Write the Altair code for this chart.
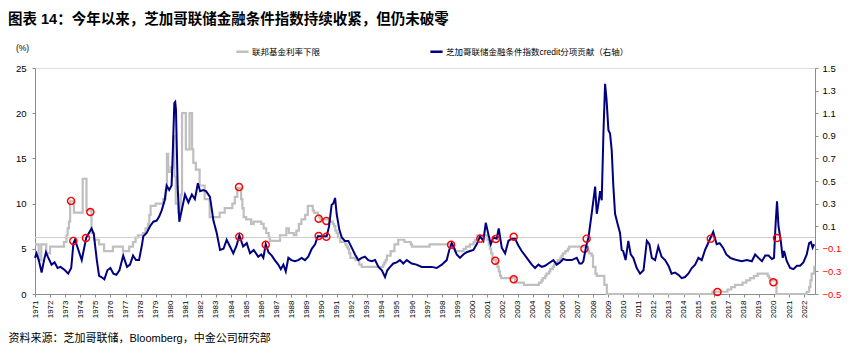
import altair as alt
import pandas as pd

TITLE = "图表 14：今年以来，芝加哥联储金融条件指数持续收紧，但仍未破零"
SOURCE = "资料来源：芝加哥联储，Bloomberg，中金公司研究部"
S_GRAY = "联邦基金利率下限"
S_NAVY = "芝加哥联储金融条件指数credit分项贡献（右轴）"

# Fed funds lower bound (left axis, %), step changes
gray_month = [
    "1971-01", "1971-04", "1971-06", "1971-10", "1972-01", "1972-12",
    "1973-02", "1973-03", "1973-04", "1973-05", "1973-08", "1974-03",
    "1974-06", "1974-10", "1974-12", "1975-04", "1975-08", "1976-03",
    "1976-11", "1977-04", "1977-07", "1977-09", "1977-11", "1978-03",
    "1978-05", "1978-07", "1978-08", "1978-09", "1979-01", "1979-07",
    "1979-09", "1979-10", "1979-11", "1980-01", "1980-03", "1980-04",
    "1980-05", "1980-07", "1980-09", "1980-10", "1981-01", "1981-04",
    "1981-06", "1981-07", "1981-09", "1981-12", "1982-04", "1982-08",
    "1983-04", "1983-08", "1984-02", "1984-04", "1984-06", "1984-09",
    "1984-10", "1984-11", "1985-01", "1985-05", "1985-07", "1986-01",
    "1986-03", "1986-05", "1986-07", "1986-08", "1987-04", "1987-09",
    "1987-11", "1988-03", "1988-05", "1988-07", "1988-09", "1988-12",
    "1989-02", "1989-06", "1989-07", "1989-10", "1989-11", "1989-12",
    "1990-07", "1990-10", "1990-11", "1990-12", "1991-01", "1991-02",
    "1991-04", "1991-08", "1991-09", "1991-10", "1991-11", "1991-12",
    "1992-04", "1992-07", "1992-09", "1994-02", "1994-03", "1994-04",
    "1994-05", "1994-08", "1994-11", "1995-02", "1995-07", "1995-12",
    "1996-01", "1997-03", "1998-09", "1998-10", "1998-11", "1999-06",
    "1999-08", "1999-11", "2000-02", "2000-03", "2000-05", "2001-01",
    "2001-02", "2001-03", "2001-04", "2001-05", "2001-06", "2001-08",
    "2001-09", "2001-10", "2001-11", "2001-12", "2002-11", "2003-06",
    "2004-06", "2004-08", "2004-09", "2004-11", "2004-12", "2005-02",
    "2005-03", "2005-05", "2005-06", "2005-08", "2005-09", "2005-11",
    "2005-12", "2006-01", "2006-03", "2006-05", "2006-06", "2007-09",
    "2007-10", "2007-12", "2008-01", "2008-03", "2008-04", "2008-10",
    "2008-12", "2015-12", "2016-12", "2017-03", "2017-06", "2017-12",
    "2018-03", "2018-06", "2018-09", "2018-12", "2019-08", "2019-09",
    "2019-10", "2020-03", "2022-03", "2022-05", "2022-06", "2022-07",
    "2022-09", "2022-10",
]
gray_value = [
    5.5, 3.75, 5.5, 4.5, 5.25, 5.75,
    6.5, 7.25, 8.0, 10.25, 9.0, 12.75,
    9.25, 6.75, 6.0, 5.5, 4.75, 5.25,
    4.75, 5.25, 5.75, 6.25, 6.5, 6.75,
    7.25, 7.75, 8.75, 9.75, 10.0, 10.5,
    11.5, 15.5, 13.5, 14.0, 17.5, 13.0,
    10.0, 9.0, 11.0, 20.0, 16.0, 20.0,
    16.0, 14.5, 13.75, 12.0, 10.5, 8.5,
    9.0, 9.5, 10.0, 10.75, 11.75, 10.5,
    9.5, 8.5, 8.25, 7.75, 8.0, 7.75,
    7.25, 6.75, 6.25, 5.875, 6.5, 7.25,
    6.75, 6.5, 7.0, 7.75, 8.25, 8.75,
    9.75, 9.25, 9.0, 8.75, 8.5, 8.25,
    8.0, 7.75, 7.5, 7.0, 6.75, 6.25,
    5.75, 5.5, 5.25, 5.0, 4.5, 4.0,
    3.75, 3.25, 3.0, 3.25, 3.5, 3.75,
    4.25, 4.75, 5.5, 6.0, 5.75, 5.5,
    5.25, 5.5, 5.25, 5.0, 4.75, 5.0,
    5.25, 5.5, 5.75, 6.0, 6.5, 6.0,
    5.5, 5.0, 4.5, 4.0, 3.75, 3.5,
    3.0, 2.5, 2.0, 1.75, 1.25, 1.0,
    1.25, 1.5, 1.75, 2.0, 2.25, 2.5,
    2.75, 3.0, 3.25, 3.5, 3.75, 4.0,
    4.25, 4.5, 4.75, 5.0, 5.25, 4.75,
    4.5, 4.25, 3.0, 2.25, 2.0, 1.0,
    0.0, 0.25, 0.5, 0.75, 1.0, 1.25,
    1.5, 1.75, 2.0, 2.25, 2.0, 1.75,
    1.5, 0.0, 0.25, 0.75, 1.5, 2.25,
    3.0, 3.0,
]

# Chicago Fed NFCI credit subindex contribution (right axis), decimal years
navy_t = [
    1971.00, 1971.10, 1971.25, 1971.44, 1971.60, 1971.73, 1971.85, 1972.10,
    1972.30, 1972.50, 1972.70, 1972.99, 1973.20, 1973.40, 1973.55, 1973.65,
    1973.85, 1974.10, 1974.25, 1974.40, 1974.75, 1974.90, 1975.10, 1975.25,
    1975.40, 1975.60, 1975.80, 1976.00, 1976.20, 1976.40, 1976.60, 1976.85,
    1977.10, 1977.30, 1977.50, 1977.70, 1977.90, 1978.10, 1978.18, 1978.40,
    1978.63, 1978.85, 1979.07, 1979.25, 1979.40, 1979.60, 1979.73, 1979.90,
    1980.06, 1980.15, 1980.24, 1980.30, 1980.35, 1980.46, 1980.57, 1980.73,
    1980.95, 1981.17, 1981.40, 1981.60, 1981.80, 1981.95, 1982.15, 1982.34,
    1982.60, 1982.83, 1983.05, 1983.27, 1983.50, 1983.71, 1983.93, 1984.15,
    1984.37, 1984.55, 1984.80, 1985.04, 1985.26, 1985.50, 1985.80, 1986.00,
    1986.14, 1986.30, 1986.48, 1986.70, 1986.90, 1987.13, 1987.30, 1987.47,
    1987.63, 1987.80, 1988.00, 1988.24, 1988.45, 1988.68, 1988.90, 1989.12,
    1989.35, 1989.57, 1989.75, 1990.00, 1990.34, 1990.50, 1990.67, 1990.78,
    1990.90, 1991.00, 1991.18, 1991.34, 1991.55, 1991.78, 1992.00, 1992.22,
    1992.44, 1992.66, 1992.88, 1993.10, 1993.33, 1993.55, 1993.77, 1994.00,
    1994.21, 1994.36, 1994.55, 1994.76, 1994.98, 1995.20, 1995.42, 1995.65,
    1995.98, 1996.30, 1996.64, 1996.97, 1997.30, 1997.64, 1997.97, 1998.30,
    1998.47, 1998.63, 1998.78, 1998.96, 1999.18, 1999.40, 1999.62, 1999.85,
    2000.07, 2000.29, 2000.51, 2000.73, 2000.89, 2001.06, 2001.22, 2001.39,
    2001.61, 2001.75, 2001.95, 2002.17, 2002.39, 2002.60, 2002.83, 2003.05,
    2003.27, 2003.50, 2003.72, 2003.94, 2004.16, 2004.38, 2004.60, 2004.82,
    2005.04, 2005.37, 2005.59, 2005.81, 2006.03, 2006.26, 2006.59, 2006.92,
    2007.10, 2007.25, 2007.36, 2007.54, 2007.70, 2007.85, 2007.96, 2008.14,
    2008.25, 2008.36, 2008.47, 2008.58, 2008.69, 2008.80, 2008.90, 2009.02,
    2009.13, 2009.24, 2009.35, 2009.46, 2009.61, 2009.79, 2009.90, 2010.00,
    2010.16, 2010.34, 2010.50, 2010.67, 2010.90, 2011.12, 2011.35, 2011.57,
    2011.74, 2011.90, 2012.12, 2012.33, 2012.55, 2012.78, 2013.00, 2013.21,
    2013.43, 2013.66, 2013.88, 2014.10, 2014.32, 2014.55, 2014.77, 2014.99,
    2015.21, 2015.43, 2015.60, 2015.80, 2015.97, 2016.20, 2016.40, 2016.62,
    2016.84, 2017.10, 2017.30, 2017.53, 2017.86, 2018.20, 2018.53, 2018.75,
    2018.97, 2019.20, 2019.42, 2019.64, 2019.86, 2020.00, 2020.10, 2020.20,
    2020.30, 2020.45, 2020.58, 2020.67, 2020.85, 2021.07, 2021.29, 2021.52,
    2021.73, 2021.95, 2022.17, 2022.33, 2022.45, 2022.56, 2022.66,
]
navy_v = [
    -0.18, -0.14, -0.20, -0.31, -0.20, -0.13, -0.17, -0.24,
    -0.22, -0.27, -0.26, -0.29, -0.32, -0.27, -0.05, -0.02,
    -0.10, -0.20, -0.10, 0.00, 0.08, 0.03, -0.20, -0.34,
    -0.35, -0.37, -0.29, -0.27, -0.32, -0.33, -0.29, -0.16,
    -0.26, -0.24, -0.16, -0.20, -0.20, -0.06, 0.01, 0.04,
    0.10, 0.14, 0.15, 0.19, 0.24, 0.33, 0.46, 0.42,
    0.46, 0.80, 1.19, 1.20, 1.13, 0.45, 0.14, 0.24,
    0.38, 0.31, 0.38, 0.34, 0.48, 0.41, 0.42, 0.41,
    0.36, 0.15, 0.04, -0.11, -0.10, -0.02, -0.08, -0.14,
    -0.07, 0.02, -0.08, -0.05, -0.14, -0.11, -0.17, -0.15,
    -0.18, -0.06, -0.13, -0.16, -0.20, -0.24, -0.28, -0.24,
    -0.30, -0.18, -0.20, -0.21, -0.20, -0.18, -0.20, -0.17,
    -0.10, -0.06, 0.01, 0.01, 0.01, 0.10, 0.29, 0.30,
    0.35, 0.21, 0.07, 0.00, -0.03, -0.03, -0.09, -0.15,
    -0.20, -0.18, -0.17, -0.20, -0.21, -0.20, -0.26, -0.29,
    -0.35, -0.29, -0.26, -0.23, -0.22, -0.20, -0.23, -0.20,
    -0.23, -0.24, -0.26, -0.26, -0.26, -0.27, -0.24, -0.20,
    -0.11, -0.05, -0.09, -0.15, -0.18, -0.15, -0.13, -0.12,
    -0.11, -0.06, 0.01, -0.03, 0.13, 0.03, -0.06, 0.00,
    -0.01, 0.08, -0.09, -0.14, -0.03, -0.01, -0.01, -0.07,
    -0.12, -0.16, -0.20, -0.24, -0.27, -0.24, -0.26, -0.25,
    -0.23, -0.20, -0.24, -0.22, -0.19, -0.20, -0.20, -0.18,
    -0.23, -0.23, -0.21, -0.08, 0.00, 0.15, 0.26, 0.45,
    0.21, 0.30, 0.41, 0.33, 0.92, 1.36, 1.22, 0.95,
    0.92, 0.77, 0.45, 0.21, 0.13, 0.04, -0.11, -0.12,
    -0.20, -0.03, -0.15, -0.18, -0.27, -0.32, -0.29, -0.03,
    -0.06, -0.18, -0.20, -0.08, -0.17, -0.20, -0.25, -0.32,
    -0.31, -0.33, -0.36, -0.35, -0.32, -0.27, -0.24, -0.18,
    -0.20, -0.11, -0.06, 0.00, 0.05, -0.06, -0.05, -0.09,
    -0.15, -0.18, -0.19, -0.20, -0.21, -0.20, -0.21, -0.15,
    -0.18, -0.21, -0.16, -0.16, -0.19, -0.18, 0.10, 0.32,
    0.10, -0.03, -0.18, -0.12, -0.21, -0.27, -0.28, -0.25,
    -0.25, -0.22, -0.15, -0.05, -0.04, -0.09, -0.06,
]

# red circle markers
gray_circle_t = [1973.39, 1974.67, 1984.53, 1989.81, 1990.32, 2001.52,
                 2002.74, 2007.43, 2016.25, 2019.96]
gray_circle_v = [10.3, 9.07, 11.84, 8.33, 8.08, 3.68, 1.63, 5.01, 0.22, 1.29]
navy_circle_t = [1973.54, 1974.38, 1984.55, 1986.30, 1989.81, 1990.32, 1998.59,
                 2000.53, 2001.55, 2002.74, 2007.58, 2015.81, 2020.20]
navy_circle_v = [-0.03, -0.005, 0.007, -0.064, 0.013, 0.006, -0.064,
                 -0.01, -0.013, 0.006, -0.01, -0.01, -0.005]

years = list(range(1971, 2023))
left_ticks = [0, 5, 10, 15, 20, 25]
right_ticks = [-0.5, -0.3, -0.1, 0.1, 0.3, 0.5, 0.7, 0.9, 1.1, 1.3, 1.5]


def ydate(t):
    y = int(t)
    d = pd.Timestamp(year=y, month=1, day=1) + pd.Timedelta(days=(t - y) * 365.25)
    return d.strftime("%Y-%m-%d")


gray_df = pd.DataFrame({"date": [m + "-01" for m in gray_month], "v": gray_value, "series": S_GRAY})
navy_df = pd.DataFrame({"date": [ydate(t) for t in navy_t], "v": navy_v, "series": S_NAVY})
gc_df = pd.DataFrame({"date": [ydate(t) for t in gray_circle_t], "v": gray_circle_v})
nc_df = pd.DataFrame({"date": [ydate(t) for t in navy_circle_t], "v": navy_circle_v})
zero_df = pd.DataFrame({"v": [0.0]})

FONT = "Liberation Sans, Noto Sans CJK SC"
AX_COL = "#8c8c8c"

x_enc = alt.X(
    "date:T",
    scale=alt.Scale(domain=[alt.DateTime(year=1971, month=1, date=1),
                            alt.DateTime(year=2022, month=9, date=20)]),
    axis=alt.Axis(
        values=[alt.DateTime(year=y, month=1, date=1) for y in years],
        format="%Y", labelAngle=-90, labelFontSize=8, labelColor="black",
        labelFont=FONT, domainColor=AX_COL, tickColor=AX_COL, tickSize=3,
        labelPadding=3, grid=False, labelOverlap=False, labelBound=False,
        title=SOURCE, titleX=-27, titleY=44, titleAlign="left",
        titleBaseline="middle", titleFontSize=11, titleFontWeight="normal",
        titleColor="black", titleFont=FONT, titleAnchor="start",
    ),
)

left_scale = alt.Scale(domain=[0, 25], nice=False, zero=False)
right_scale = alt.Scale(domain=[-0.5, 1.5], nice=False, zero=False)

left_axis = alt.Axis(
    values=left_ticks, orient="left", labelFontSize=9.5, labelColor="black",
    labelFont=FONT, domainColor=AX_COL, tickColor=AX_COL, tickSize=3,
    labelPadding=6, grid=False, title="(%)", titleAngle=0, titleX=-13,
    titleY=-21, titleAlign="center", titleBaseline="middle", titleFontSize=8.5,
    titleFontWeight="normal", titleColor="black", titleFont=FONT,
)
right_axis = alt.Axis(
    values=right_ticks, orient="right", format=".1f", labelFontSize=9.5,
    labelColor={"condition": {"test": "datum.value < 0", "value": "#ff0000"}, "value": "#000000"},
    labelFont=FONT, domainColor=AX_COL, tickColor=AX_COL, tickSize=3,
    labelPadding=4, grid=False, title=None,
)

color_enc = alt.Color(
    "series:N",
    scale=alt.Scale(domain=[S_GRAY, S_NAVY], range=["#bfbfbf", "#000080"]),
    sort=[S_GRAY, S_NAVY],
    legend=alt.Legend(
        title=None, orient="none", legendX=200, legendY=-24, direction="horizontal",
        symbolType="stroke", symbolSize=150, symbolStrokeWidth=2.5,
        labelFontSize=8.5, labelFont=FONT, labelColor="black", labelOffset=2,
        labelLimit=0, columnPadding=104,
    ),
)

gray_line = alt.Chart(gray_df).mark_line(interpolate="step-after", strokeWidth=2.2).encode(
    x=x_enc, y=alt.Y("v:Q", scale=left_scale, axis=left_axis), color=color_enc
)
gray_circ = alt.Chart(gc_df).mark_point(shape="circle", filled=False, color="#ff0000",
                                        size=50, strokeWidth=1.4, opacity=1).encode(
    x=x_enc, y=alt.Y("v:Q", scale=left_scale, axis=left_axis)
)

zero_rule = alt.Chart(zero_df).mark_rule(color="#cfcfcf", strokeWidth=1).encode(
    y=alt.Y("v:Q", scale=right_scale, axis=right_axis)
)
navy_line = alt.Chart(navy_df).mark_line(strokeWidth=2).encode(
    x=x_enc, y=alt.Y("v:Q", scale=right_scale, axis=right_axis), color=color_enc
)
navy_circ = alt.Chart(nc_df).mark_point(shape="circle", filled=False, color="#ff0000",
                                        size=50, strokeWidth=1.4, opacity=1).encode(
    x=x_enc, y=alt.Y("v:Q", scale=right_scale, axis=right_axis)
)

left_group = alt.layer(gray_line, gray_circ)
right_group = alt.layer(zero_rule, navy_line, navy_circ)

chart = alt.layer(left_group, right_group).resolve_scale(y="independent").properties(
    width=780, height=226,
    autosize=alt.AutoSizeParams(type="none"),
    padding={"left": 27, "top": 60, "right": 27, "bottom": 52},
    title=alt.TitleParams(text=TITLE, anchor="start", frame="group", dx=-27,
                          fontSize=14.5, fontWeight="bold", color="black",
                          font=FONT, offset=16),
).configure_view(stroke=None).configure(font=FONT)

chart.save("out.html", embed_options={"renderer": "svg", "actions": False})
